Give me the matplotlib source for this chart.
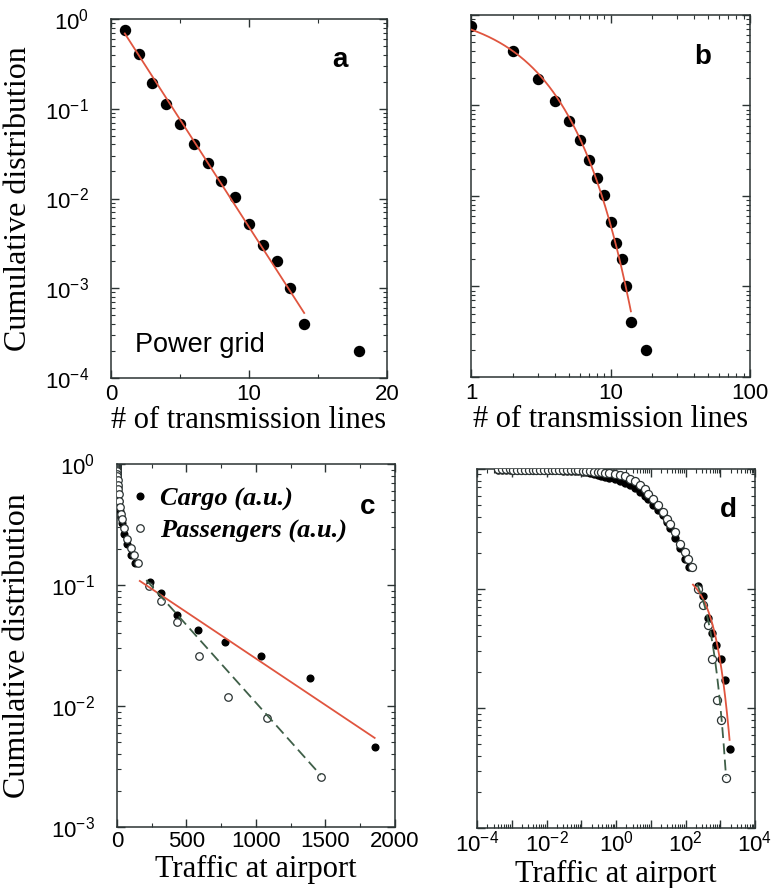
import numpy as np
import matplotlib
matplotlib.use("Agg")
import matplotlib.pyplot as plt
from matplotlib.ticker import MultipleLocator, LogLocator, NullFormatter, FuncFormatter, FixedLocator
from matplotlib.lines import Line2D

plt.rcParams['font.family'] = ['Liberation Sans', 'DejaVu Sans']
plt.rcParams['mathtext.fontset'] = 'custom'
plt.rcParams['mathtext.rm'] = 'Liberation Sans'
plt.rcParams['mathtext.it'] = 'Liberation Sans:italic'
plt.rcParams['mathtext.bf'] = 'Liberation Sans:bold'

# ---- Power grid: number of transmission lines per node ----
grid_k = [1, 2, 3, 4, 5, 6, 7, 8, 9, 10, 11, 12, 13, 14, 18]
grid_cum = [0.755, 0.404, 0.195, 0.113, 0.068, 0.041, 0.0247, 0.0157, 0.0103,
            0.0052, 0.00305, 0.00202, 0.0010, 0.00040, 0.00020]
# exponential fit P(k) = A exp(-k / k0)
grid_fit_amp = 1.198
grid_fit_scale = 1.813
grid_fit_range = (1.0, 14.0)

# ---- Airports: traffic (arbitrary units) ----
passenger_traffic = [0.00041, 0.00052, 0.00068, 0.00087, 0.0011, 0.0014, 0.0019, 0.0024,
                     0.0031, 0.0040, 0.0051, 0.0066, 0.0085, 0.011, 0.014, 0.018, 0.023,
                     0.030, 0.039, 0.050, 0.065, 0.083, 0.11, 0.14, 0.18, 0.23, 0.30, 0.38,
                     0.49, 0.63, 0.93, 1.30, 1.82, 2.51, 3.55, 4.90, 6.84, 8.51, 11.7, 16.6,
                     22.9, 28.8, 35.5, 50.1, 69.2, 97.7, 120, 151, 228, 317, 432, 588, 796,
                     1082, 1465]
passenger_cum = [0.990, 0.990, 0.990, 0.990, 0.989, 0.989, 0.989, 0.988, 0.988, 0.987,
                 0.987, 0.986, 0.986, 0.985, 0.984, 0.983, 0.982, 0.981, 0.979, 0.977,
                 0.975, 0.972, 0.968, 0.963, 0.957, 0.950, 0.943, 0.935, 0.927, 0.920,
                 0.914, 0.897, 0.875, 0.830, 0.789, 0.731, 0.676, 0.622, 0.565, 0.497,
                 0.438, 0.385, 0.349, 0.298, 0.238, 0.203, 0.178, 0.152, 0.0985, 0.0736,
                 0.0497, 0.0260, 0.0118, 0.0080, 0.0026]

cargo_traffic = [0.00041, 0.00052, 0.00068, 0.00087, 0.0011, 0.0014, 0.0019, 0.0024,
                 0.0031, 0.0040, 0.0051, 0.0066, 0.0085, 0.011, 0.014, 0.018, 0.023,
                 0.030, 0.039, 0.050, 0.065, 0.083, 0.11, 0.14, 0.18, 0.23, 0.30, 0.38,
                 0.49, 0.63, 0.93, 1.30, 1.82, 2.51, 3.55, 4.90, 6.84, 8.51, 11.7, 16.6,
                 22.9, 28.8, 35.5, 50.1, 69.2, 97.7, 127, 235, 319, 432, 580, 777, 1034,
                 1391, 1854]
cargo_cum = [0.985, 0.985, 0.985, 0.984, 0.984, 0.983, 0.983, 0.982, 0.981, 0.980,
             0.979, 0.978, 0.977, 0.976, 0.975, 0.973, 0.971, 0.969, 0.966, 0.963,
             0.960, 0.955, 0.945, 0.935, 0.920, 0.905, 0.890, 0.875, 0.860, 0.845,
             0.820, 0.800, 0.770, 0.730, 0.690, 0.643, 0.590, 0.560, 0.497, 0.450,
             0.410, 0.363, 0.324, 0.263, 0.219, 0.178, 0.151, 0.106, 0.0863, 0.0567,
             0.0427, 0.0335, 0.0258, 0.0171, 0.0046]

# exponential tails fitted to each series
cargo_fit_amp, cargo_fit_scale, cargo_fit_range = 0.1443, 565.8, (164.0, 1854.0)
pass_fit_amp, pass_fit_scale, pass_fit_range = 0.205, 338.0, (211.0, 1465.0)

RED = '#e0553f'
GREEN = '#3f5f48'
FRAME = '#2b3333'
SERIF = ['Liberation Serif', 'DejaVu Serif']
YLABEL_SIZE = 23
XLABEL_SIZE = 22
LETTER_SIZE = 20

fig = plt.figure(figsize=(7.81, 8.88), dpi=100)
ax_a = fig.add_axes([0.1421, 0.5743, 0.3534, 0.4043])
ax_b = fig.add_axes([0.6031, 0.5755, 0.3572, 0.4077])
ax_c = fig.add_axes([0.1498, 0.0687, 0.3559, 0.4088])
ax_d = fig.add_axes([0.6108, 0.0676, 0.3559, 0.4043])


def style(ax, xpad=4):
    for s in ax.spines.values():
        s.set_color(FRAME)
        s.set_linewidth(1.1)
    ax.tick_params(which='both', direction='in', top=True, right=True,
                   color=FRAME, labelsize=16)
    ax.tick_params(which='major', length=6, width=1)
    ax.tick_params(which='minor', length=3, width=0.8)
    ax.tick_params(axis='y', pad=16)
    ax.tick_params(axis='x', pad=xpad)


def log_fmt(v, pos):
    e = int(round(np.log10(v)))
    return r'$10^{%d}$' % e


def fit_curve(amp, scale, rng, n=200, logspace=False):
    x = np.logspace(np.log10(rng[0]), np.log10(rng[1]), n) if logspace else np.linspace(rng[0], rng[1], n)
    return x, amp * np.exp(-x / scale)


# ---- a ----
ax = ax_a
ax.set_yscale('log')
ax.plot(grid_k, grid_cum, 'o', color='black', ms=7.2, zorder=3)
fx, fy = fit_curve(grid_fit_amp, grid_fit_scale, grid_fit_range)
ax.plot(fx, fy, '-', color=RED, lw=1.3, zorder=4)
ax.set_xlim(0, 20)
ax.set_ylim(1e-4, 1)
ax.xaxis.set_major_locator(MultipleLocator(10))
ax.xaxis.set_minor_locator(MultipleLocator(5))
ax.yaxis.set_major_locator(LogLocator(base=10, numticks=10))
ax.yaxis.set_major_formatter(FuncFormatter(log_fmt))
ax.yaxis.set_minor_locator(LogLocator(base=10, subs=np.arange(2, 10), numticks=20))
ax.yaxis.set_minor_formatter(NullFormatter())
style(ax)
ax.set_ylabel('Cumulative distribution', family=SERIF, fontsize=YLABEL_SIZE)
ax.yaxis.set_label_coords(-0.283, 0.5)
ax.set_xlabel('# of transmission lines', family=SERIF, fontsize=XLABEL_SIZE)
ax.xaxis.set_label_coords(0.5, -0.078)
ax.text(0.087, 0.092, 'Power grid', transform=ax.transAxes, fontsize=19.5,
        ha='left', va='center')
ax.text(0.83, 0.885, 'a', transform=ax.transAxes, fontsize=LETTER_SIZE, weight='bold',
        ha='center', va='center')

# ---- b ----
ax = ax_b
ax.set_xscale('log')
ax.set_yscale('log')
ax.plot(grid_k, grid_cum, 'o', color='black', ms=7.2, zorder=3)
fx, fy = fit_curve(grid_fit_amp, grid_fit_scale, grid_fit_range, logspace=True)
ax.plot(fx, fy, '-', color=RED, lw=1.3, zorder=4)
ax.set_xlim(1, 100)
ax.set_ylim(1e-4, 1)
ax.xaxis.set_major_locator(FixedLocator([1, 10, 100]))
ax.xaxis.set_major_formatter(FuncFormatter(lambda v, p: '%d' % v))
ax.xaxis.set_minor_locator(LogLocator(base=10, subs=np.arange(2, 10), numticks=20))
ax.xaxis.set_minor_formatter(NullFormatter())
ax.yaxis.set_major_locator(LogLocator(base=10, numticks=10))
ax.yaxis.set_minor_locator(LogLocator(base=10, subs=np.arange(2, 10), numticks=20))
ax.yaxis.set_major_formatter(NullFormatter())
ax.yaxis.set_minor_formatter(NullFormatter())
style(ax)
ax.set_xlabel('# of transmission lines', family=SERIF, fontsize=XLABEL_SIZE)
ax.xaxis.set_label_coords(0.5, -0.078)
ax.text(0.83, 0.885, 'b', transform=ax.transAxes, fontsize=LETTER_SIZE, weight='bold',
        ha='center', va='center')

# ---- c ----
ax = ax_c
ax.set_yscale('log')
ax.plot(cargo_traffic, cargo_cum, 'o', color='black', ms=4.8, zorder=3)
ax.plot(passenger_traffic, passenger_cum, 'o', mfc='white', mec=FRAME, mew=0.9,
        ms=5.4, zorder=4)
fx, fy = fit_curve(cargo_fit_amp, cargo_fit_scale, cargo_fit_range)
ax.plot(fx, fy, '-', color=RED, lw=1.3, zorder=5)
fx, fy = fit_curve(pass_fit_amp, pass_fit_scale, pass_fit_range)
ax.plot(fx, fy, '--', color=GREEN, lw=1.3, dashes=(6, 3), zorder=5)
ax.set_xlim(0, 2000)
ax.set_ylim(1e-3, 1)
ax.xaxis.set_major_locator(MultipleLocator(500))
ax.xaxis.set_minor_locator(MultipleLocator(250))
ax.yaxis.set_major_locator(LogLocator(base=10, numticks=10))
ax.yaxis.set_major_formatter(FuncFormatter(log_fmt))
ax.yaxis.set_minor_locator(LogLocator(base=10, subs=np.arange(2, 10), numticks=20))
ax.yaxis.set_minor_formatter(NullFormatter())
style(ax, xpad=3)
ax.set_ylabel('Cumulative distribution', family=SERIF, fontsize=YLABEL_SIZE)
ax.yaxis.set_label_coords(-0.306, 0.5)
ax.set_xlabel('Traffic at airport', family=SERIF, fontsize=XLABEL_SIZE)
ax.xaxis.set_label_coords(0.5, -0.078)
handles = [
    Line2D([], [], ls='none', marker='o', color='black', ms=4.8),
    Line2D([], [], ls='none', marker='o', mfc='white', mec=FRAME, mew=0.9, ms=5.4),
]
ax.legend(handles, ['Cargo (a.u.)', 'Passengers (a.u.)'], loc='upper left',
          bbox_to_anchor=(0.016, 0.966), frameon=False, handlelength=0.6,
          handletextpad=0.45, labelspacing=0.3, borderaxespad=0.0, borderpad=0.4,
          prop={'family': SERIF, 'style': 'italic', 'weight': 'bold', 'size': 19})
ax.text(0.9, 0.882, 'c', transform=ax.transAxes, fontsize=LETTER_SIZE, weight='bold',
        ha='center', va='center')

# ---- d ----
ax = ax_d
ax.set_xscale('log')
ax.set_yscale('log')
ax.plot(cargo_traffic, cargo_cum, 'o', color='black', ms=5.0, zorder=3)
ax.plot(passenger_traffic, passenger_cum, 'o', mfc='white', mec=FRAME, mew=0.9,
        ms=5.8, zorder=4)
fx, fy = fit_curve(cargo_fit_amp, cargo_fit_scale, cargo_fit_range, logspace=True)
ax.plot(fx, fy, '-', color=RED, lw=1.3, zorder=5)
fx, fy = fit_curve(pass_fit_amp, pass_fit_scale, pass_fit_range, logspace=True)
ax.plot(fx, fy, '--', color=GREEN, lw=1.3, dashes=(6, 3), zorder=5)
ax.set_xlim(1e-4, 1e4)
ax.set_ylim(1e-3, 1)
ax.xaxis.set_major_locator(LogLocator(base=10, numticks=20))
ax.xaxis.set_major_formatter(FuncFormatter(
    lambda v, p: log_fmt(v, p) if int(round(np.log10(v))) % 2 == 0 else ''))
ax.xaxis.set_minor_locator(LogLocator(base=10, subs=np.arange(2, 10), numticks=40))
ax.xaxis.set_minor_formatter(NullFormatter())
ax.yaxis.set_major_locator(LogLocator(base=10, numticks=10))
ax.yaxis.set_minor_locator(LogLocator(base=10, subs=np.arange(2, 10), numticks=20))
ax.yaxis.set_major_formatter(NullFormatter())
ax.yaxis.set_minor_formatter(NullFormatter())
style(ax, xpad=2)
ax.set_xlabel('Traffic at airport', family=SERIF, fontsize=XLABEL_SIZE)
ax.xaxis.set_label_coords(0.5, -0.088)
ax.text(0.905, 0.885, 'd', transform=ax.transAxes, fontsize=LETTER_SIZE, weight='bold',
        ha='center', va='center')

fig.savefig('out.png', dpi=100)
